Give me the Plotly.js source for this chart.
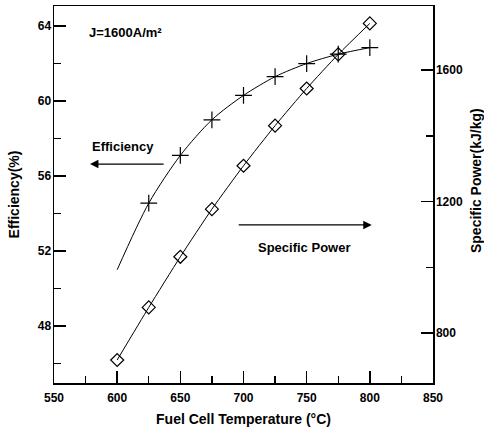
<!DOCTYPE html>
<html>
<head>
<meta charset="utf-8">
<script src="https://cdn.plot.ly/plotly-3.0.1.min.js"></script>
<style>
  html, body { margin: 0; padding: 0; background: #fff; }
  #chart { width: 484px; height: 427px; }
</style>
</head>
<body>
<div id="chart"></div>
<script>
// Fuel cell temperature (°C)
const temperature = [600, 625, 650, 675, 700, 725, 750, 775, 800];
// Efficiency (%) — the first point only continues the curve, no marker drawn there
const efficiency = [51.0, 54.55, 57.1, 59.0, 60.3, 61.3, 62.0, 62.5, 62.85];
const efficiencyMarkerOpacity = [0, 1, 1, 1, 1, 1, 1, 1, 1];
// Specific power (kJ/kg)
const specificPower = [718, 878, 1032, 1177, 1309, 1431, 1544, 1648, 1742];

const xTicks = [550, 600, 650, 700, 750, 800, 850];
const effTicks = [48, 52, 56, 60, 64];
const powerTicks = [800, 1200, 1600];

const FONT = 'Liberation Sans, Arial, sans-serif';
const bold = (size) => ({ family: FONT, size: size, color: '#000', weight: 'bold' });

// major ticks every step of the tick list, minor ticks halfway between
function tickSpec(ticks) {
  const step = ticks[1] - ticks[0];
  return {
    tickmode: 'linear', tick0: ticks[0], dtick: step,
    ticks: 'inside', ticklen: 12, tickwidth: 1.6, tickcolor: '#000',
    minor: { ticks: 'inside', ticklen: 7, tickwidth: 1.4, tickcolor: '#000',
             tick0: ticks[0] - step / 2, dtick: step / 2 }
  };
}

const traces = [
  {
    x: temperature, y: efficiency, type: 'scatter', mode: 'lines+markers',
    line: { color: '#000', width: 1, shape: 'spline', smoothing: 0.8 },
    marker: { symbol: 'cross-thin', size: 12, opacity: efficiencyMarkerOpacity,
              line: { color: '#000', width: 1.2 } },
    yaxis: 'y', showlegend: false, hoverinfo: 'skip'
  },
  {
    x: temperature, y: specificPower, type: 'scatter', mode: 'lines+markers',
    line: { color: '#000', width: 1, shape: 'spline', smoothing: 0.6 },
    marker: { symbol: 'diamond-open', size: 10, color: '#000',
              line: { color: '#000', width: 1.2 } },
    yaxis: 'y2', showlegend: false, hoverinfo: 'skip'
  }
];

const layout = {
  width: 484, height: 427,
  margin: { l: 54, r: 51, t: 6, b: 44 },
  paper_bgcolor: '#fff', plot_bgcolor: '#fff',
  font: bold(12),
  xaxis: Object.assign(tickSpec(xTicks), {
    range: [550, 850],
    showline: true, linecolor: '#000', linewidth: 1.5, mirror: true,
    showgrid: false, zeroline: false, tickfont: bold(12), ticklabelstandoff: 3,
    title: { text: 'Fuel Cell Temperature (°C)', font: bold(14), standoff: 10 }
  }),
  yaxis: Object.assign(tickSpec(effTicks), {
    range: [44.96, 65.07],
    showline: true, linecolor: '#000', linewidth: 1.5,
    showgrid: false, zeroline: false, tickfont: bold(12), ticklabelstandoff: -1,
    title: { text: 'Efficiency(%)', font: bold(14), standoff: 15 }
  }),
  yaxis2: Object.assign(tickSpec(powerTicks), {
    overlaying: 'y', side: 'right',
    range: [648, 1795],
    showline: true, linecolor: '#000', linewidth: 1.5,
    showgrid: false, zeroline: false, tickfont: bold(12), ticklabelstandoff: -1
  }),
  annotations: [
    { text: 'Specific Power(kJ/kg)', textangle: -90, x: 1.1135, y: 0.5358,
      xref: 'paper', yref: 'paper', xanchor: 'center', yanchor: 'middle',
      showarrow: false, font: bold(14) },
    { text: 'J=1600A/m²', x: 576, y: 63.68, xref: 'x', yref: 'y',
      xanchor: 'left', yanchor: 'middle', showarrow: false, font: bold(13) },
    { text: 'Efficiency', x: 578.5, y: 57.6, xref: 'x', yref: 'y',
      xanchor: 'left', yanchor: 'middle', showarrow: false, font: bold(13) },
    { text: '', x: 578.5, y: 56.64, xref: 'x', yref: 'y',
      ax: 638, ay: 56.64, axref: 'x', ayref: 'y',
      showarrow: true, arrowhead: 2, arrowsize: 1.3, arrowwidth: 1.3, arrowcolor: '#000' },
    { text: 'Specific Power', x: 710, y: 52.21, xref: 'x', yref: 'y',
      xanchor: 'left', yanchor: 'middle', showarrow: false, font: bold(13) },
    { text: '', x: 801.5, y: 53.39, xref: 'x', yref: 'y',
      ax: 695, ay: 53.39, axref: 'x', ayref: 'y',
      showarrow: true, arrowhead: 2, arrowsize: 1.3, arrowwidth: 1.3, arrowcolor: '#000' }
  ]
};

Plotly.newPlot('chart', traces, layout, { staticPlot: true, displayModeBar: false });
</script>
</body>
</html>
